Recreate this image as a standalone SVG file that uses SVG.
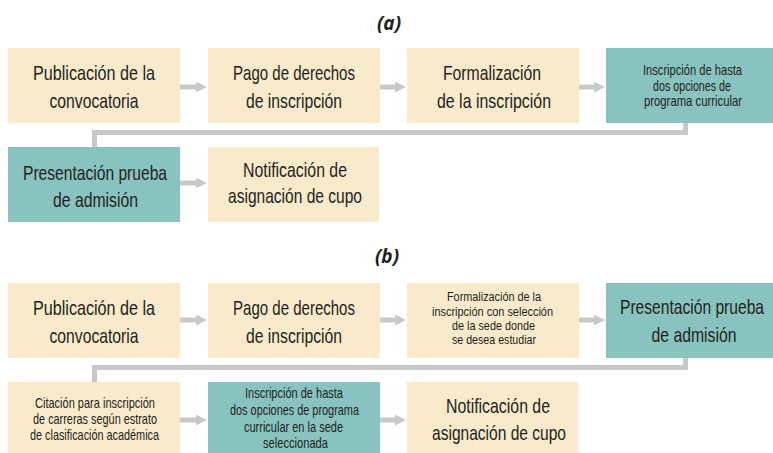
<svg xmlns="http://www.w3.org/2000/svg" width="773" height="453" viewBox="0 0 773 453">
<style>
.bg{fill:#ffffff}
.beige{fill:#f9eacb}
.teal{fill:#88c3c0}
.t{font-family:"Liberation Sans",Arial,sans-serif;fill:#231f20;text-anchor:middle}
.L{font-size:21px}
.S{font-size:14.5px}
.XS{font-size:13.5px}
.lbl{font-family:"Open Sans","DejaVu Sans",sans-serif;font-size:19px;font-weight:bold;font-style:italic;fill:#231f20;text-anchor:middle}
.c{fill:none;stroke:#c8c8c8;stroke-width:5}
</style>
<defs>
<marker id="ah" markerUnits="userSpaceOnUse" markerWidth="11" markerHeight="11" refX="0" refY="5.5" orient="auto">
<path d="M0,0 L11,5.5 L0,11 z" fill="#c8c8c8"/>
</marker>
</defs>
<rect class="bg" width="773" height="453"/>
<text class="lbl" x="389" y="30">(a)</text>
<text class="lbl" x="387" y="263">(b)</text>

<g id="connectors">
<path class="c" d="M180,87 H196" marker-end="url(#ah)"/>
<path class="c" d="M380,87 H395" marker-end="url(#ah)"/>
<path class="c" d="M579,87 H594" marker-end="url(#ah)"/>
<path class="c" d="M685.5,123 V132.5 H94.5 V147"/>
<path class="c" d="M180,183 H196" marker-end="url(#ah)"/>
<path class="c" d="M180,320 H196" marker-end="url(#ah)"/>
<path class="c" d="M380,320 H395" marker-end="url(#ah)"/>
<path class="c" d="M579,320 H594" marker-end="url(#ah)"/>
<path class="c" d="M685.5,358 V367.5 H94.5 V382"/>
<path class="c" d="M180,420 H196" marker-end="url(#ah)"/>
<path class="c" d="M380,420 H395" marker-end="url(#ah)"/>
</g>

<g id="a1"><rect class="beige" x="8" y="48" width="172" height="75"/>
<text class="t L" x="94" y="80" textLength="122" lengthAdjust="spacingAndGlyphs">Publicación de  la</text>
<text class="t L" x="94" y="108" textLength="89" lengthAdjust="spacingAndGlyphs">convocatoria</text></g>
<g id="a2"><rect class="beige" x="208" y="48" width="172" height="75"/>
<text class="t L" x="294" y="80" textLength="122" lengthAdjust="spacingAndGlyphs">Pago de derechos</text>
<text class="t L" x="294" y="108" textLength="96" lengthAdjust="spacingAndGlyphs">de inscripción</text></g>
<g id="a3"><rect class="beige" x="407" y="48" width="172" height="75"/>
<text class="t L" x="492" y="80" textLength="98" lengthAdjust="spacingAndGlyphs">Formalización</text>
<text class="t L" x="494" y="108" textLength="114" lengthAdjust="spacingAndGlyphs">de la inscripción</text></g>
<g id="a4"><rect class="teal" x="606" y="48" width="167" height="75"/>
<text class="t S" x="692.5" y="75" textLength="99" lengthAdjust="spacingAndGlyphs">Inscripción de hasta</text>
<text class="t S" x="692" y="90.5" textLength="78" lengthAdjust="spacingAndGlyphs">dos opciones de</text>
<text class="t S" x="693" y="106" textLength="98" lengthAdjust="spacingAndGlyphs">programa curricular</text></g>
<g id="a5"><rect class="teal" x="8" y="147" width="172" height="75"/>
<text class="t L" x="95" y="180" textLength="144" lengthAdjust="spacingAndGlyphs">Presentación prueba</text>
<text class="t L" x="95.5" y="207" textLength="85" lengthAdjust="spacingAndGlyphs">de admisión</text></g>
<g id="a6"><rect class="beige" x="208" y="147" width="171" height="75"/>
<text class="t L" x="295" y="177" textLength="104" lengthAdjust="spacingAndGlyphs">Notificación de</text>
<text class="t L" x="295" y="203" textLength="134" lengthAdjust="spacingAndGlyphs">asignación de cupo</text></g>

<g id="b1"><rect class="beige" x="8" y="283" width="172" height="75"/>
<text class="t L" x="94" y="315" textLength="122" lengthAdjust="spacingAndGlyphs">Publicación de  la</text>
<text class="t L" x="94" y="343" textLength="89" lengthAdjust="spacingAndGlyphs">convocatoria</text></g>
<g id="b2"><rect class="beige" x="208" y="283" width="172" height="75"/>
<text class="t L" x="294" y="315" textLength="122" lengthAdjust="spacingAndGlyphs">Pago de derechos</text>
<text class="t L" x="294" y="343" textLength="96" lengthAdjust="spacingAndGlyphs">de inscripción</text></g>
<g id="b3"><rect class="beige" x="407" y="283" width="172" height="75"/>
<text class="t XS" x="494" y="301" textLength="94" lengthAdjust="spacingAndGlyphs">Formalización de la</text>
<text class="t XS" x="492.5" y="315.5" textLength="121" lengthAdjust="spacingAndGlyphs">inscripción con selección</text>
<text class="t XS" x="493.5" y="329.5" textLength="83" lengthAdjust="spacingAndGlyphs">de la sede donde</text>
<text class="t XS" x="494" y="343.5" textLength="84" lengthAdjust="spacingAndGlyphs">se desea estudiar</text></g>
<g id="b4"><rect class="teal" x="606" y="283" width="167" height="75"/>
<text class="t L" x="764" y="314" style="text-anchor:end" textLength="144" lengthAdjust="spacingAndGlyphs">Presentación prueba</text>
<text class="t L" x="694" y="342" textLength="85" lengthAdjust="spacingAndGlyphs">de admisión</text></g>
<g id="b5"><rect class="beige" x="8" y="382" width="172" height="71"/>
<text class="t S" x="95" y="408" textLength="120" lengthAdjust="spacingAndGlyphs">Citación para inscripción</text>
<text class="t S" x="95" y="424" textLength="124" lengthAdjust="spacingAndGlyphs">de carreras según estrato</text>
<text class="t S" x="94.5" y="440" textLength="129" lengthAdjust="spacingAndGlyphs">de clasificación académica</text></g>
<g id="b6"><rect class="teal" x="208" y="382" width="172" height="71"/>
<text class="t S" x="294" y="398" textLength="98" lengthAdjust="spacingAndGlyphs">Inscripción de hasta</text>
<text class="t S" x="294.5" y="415" textLength="129" lengthAdjust="spacingAndGlyphs">dos opciones de programa</text>
<text class="t S" x="293.5" y="432" textLength="99" lengthAdjust="spacingAndGlyphs">curricular en la sede</text>
<text class="t S" x="295.5" y="448" textLength="65" lengthAdjust="spacingAndGlyphs">seleccionada</text></g>
<g id="b7"><rect class="beige" x="407" y="382" width="171" height="71"/>
<text class="t L" x="498" y="413" textLength="104" lengthAdjust="spacingAndGlyphs">Notificación de</text>
<text class="t L" x="499" y="440" textLength="134" lengthAdjust="spacingAndGlyphs">asignación de cupo</text></g>
</svg>
